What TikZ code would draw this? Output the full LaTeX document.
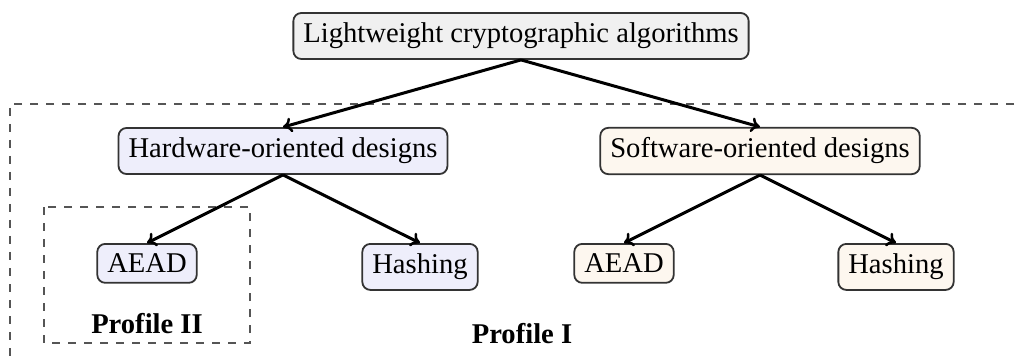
\documentclass[tikz,border=0pt]{standalone}
\usepackage{fontspec}
\setmainfont{Liberation Serif}
\usetikzlibrary{arrows.meta}
\definecolor{topfill}{HTML}{F0F0F0}
\definecolor{hwfill}{HTML}{EEEEFB}
\definecolor{swfill}{HTML}{FDF7EF}
\definecolor{edgegray}{HTML}{333333}
\definecolor{dashgray}{HTML}{555555}
\begin{document}
\begin{tikzpicture}[x=1pt,y=-1pt,
  box/.style={draw=edgegray,line width=1.8pt,rounded corners=8pt,inner xsep=10pt,inner ysep=10pt,
    font=\fontsize{28.6}{34}\selectfont},
  topbox/.style={box,fill=topfill},
  hwbox/.style={box,fill=hwfill},
  swbox/.style={box,fill=swfill},
  conn/.style={line width=3pt,-{To[length=9pt,width=15pt,line width=2.5pt]}},
  region/.style={draw=dashgray,line width=1.5pt,dash pattern=on 8pt off 8pt},
  proflabel/.style={font=\fontsize{28.6}{34}\selectfont\bfseries}
]
\useasboundingbox (0,0) rectangle (1022,358);
\clip (0,0) rectangle (1022,358);
% outer region (Profile I)
\draw[region] (1030,104) -- (10,104) -- (10,370);
% Profile II region
\draw[region] (44,207) rectangle (250,343);

\node[topbox] (top) at (521,36) {Lightweight cryptographic algorithms};
\node[hwbox] (hw) at (283,151) {Hardware-oriented designs};
\node[swbox] (sw) at (760,151) {Software-oriented designs};
\node[hwbox,anchor=north] (hwaead) at (147,243) {AEAD};
\node[hwbox,anchor=north] (hwhash) at (420,243) {Hashing};
\node[swbox,anchor=north] (swaead) at (624,243) {AEAD};
\node[swbox,anchor=north] (swhash) at (896,243) {Hashing};

\node[proflabel] (p2) at (147,324) {Profile II};
\node[proflabel] (p1) at (522,334) {Profile I};

\draw[conn] (top.south) -- (hw.north);
\draw[conn] (top.south) -- (sw.north);
\draw[conn] (hw.south) -- (hwaead.north);
\draw[conn] (hw.south) -- (hwhash.north);
\draw[conn] (sw.south) -- (swaead.north);
\draw[conn] (sw.south) -- (swhash.north);
\end{tikzpicture}
\end{document}
